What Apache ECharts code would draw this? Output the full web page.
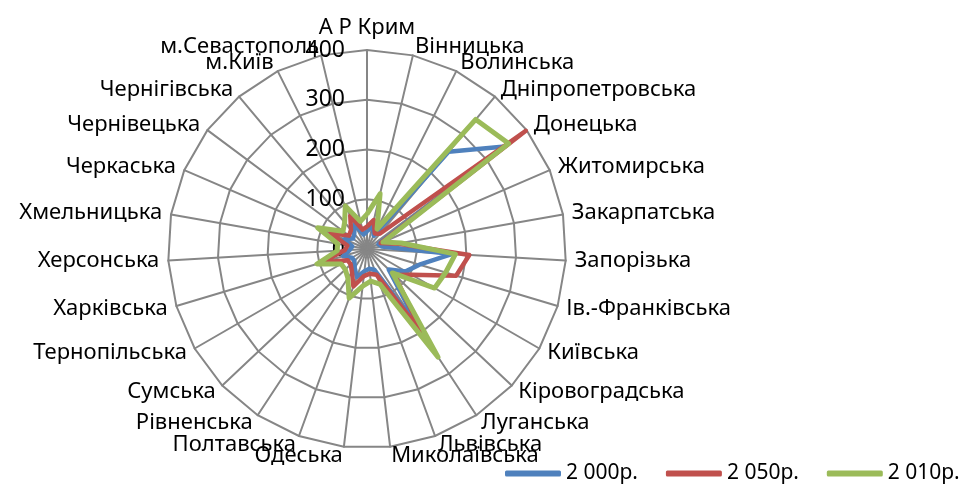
<!DOCTYPE html>
<html>
<head>
<meta charset="utf-8">
<script src="https://cdn.jsdelivr.net/npm/echarts@6/dist/echarts.min.js"></script>
<style>
  html, body { margin: 0; padding: 0; background: #fff; }
  #chart { width: 976px; height: 486px; }
</style>
</head>
<body>
<div id="chart"></div>
<script>
// regions (clockwise from the top)
const regions = [
  "А Р Крим", "Вінницька", "Волинська", "Дніпропетровська", "Донецька",
  "Житомирська", "Закарпатська", "Запорізька", "Ів.-Франківська", "Київська",
  "Кіровоградська", "Луганська", "Львівська", "Миколаївська", "Одеська",
  "Полтавська", "Рівненська", "Сумська", "Тернопільська", "Харківська",
  "Херсонська", "Хмельницька", "Черкаська", "Чернівецька", "Чернігівська",
  "м.Київ", "м.Севастополь"
];
const seriesNames = ["2 000р.", "2 050р.", "2 010р."];
const radarMax = 400;

// values
const y2000 = [35, 50, 30, 255, 345, 25, 30, 172, 110, 90, 60, 195, 45, 40, 45,
  60, 45, 35, 35, 50, 35, 30, 50, 35, 40, 55, 30];
const y2050 = [45, 60, 35, 40, 398, 30, 62, 206, 187, 104, 76, 204, 55, 50, 55,
  80, 55, 45, 45, 95, 45, 40, 80, 45, 50, 75, 40];
const y2010 = [70, 114, 45, 340, 355, 35, 70, 178, 165, 157, 70, 260, 75, 65, 75,
  105, 70, 60, 60, 105, 60, 60, 108, 60, 70, 97, 57];

const colors = ["#4F81BD", "#C0504D", "#9BBB59"];
const font = "Noto Sans";

// echarts lays radar axes counter-clockwise, the chart goes clockwise
const order = [0].concat(regions.map((_, i) => regions.length - 1 - i).slice(0, -1));
const pick = (arr) => order.map((i) => arr[i]);

const indicator = order.map((i) => {
  const ind = { name: regions[i], min: 0, max: radarMax };
  if (i === 0) ind.axisLabel = { show: true };
  return ind;
});

const chart = echarts.init(document.getElementById("chart"));
chart.setOption({
  animation: false,
  color: colors,
  legend: {
    left: 500,
    top: 458,
    width: 476,
    itemWidth: 56,
    itemHeight: 6,
    itemGap: 28,
    icon: "roundRect",
    textStyle: { color: "#000", fontSize: 21, fontFamily: font },
    data: seriesNames
  },
  radar: {
    center: [367, 249],
    radius: 199,
    shape: "polygon",
    splitNumber: 4,
    startAngle: 90,
    nameGap: 9,
    indicator: indicator,
    axisName: { color: "#000", fontSize: 22, fontFamily: font },
    axisLine: { lineStyle: { color: "#868686", width: 2 } },
    splitLine: { lineStyle: { color: "#868686", width: 2 } },
    splitArea: { show: false },
    axisTick: { show: false },
    axisLabel: {
      show: false,
      color: "#000",
      fontSize: 23,
      fontFamily: font,
      margin: 22
    }
  },
  series: [{
    type: "radar",
    symbol: "none",
    data: [
      { name: seriesNames[0], value: pick(y2000), lineStyle: { width: 4.5, color: colors[0] } },
      { name: seriesNames[1], value: pick(y2050), lineStyle: { width: 4.5, color: colors[1] } },
      { name: seriesNames[2], value: pick(y2010), lineStyle: { width: 5, color: colors[2] } }
    ]
  }]
});
</script>
</body>
</html>
